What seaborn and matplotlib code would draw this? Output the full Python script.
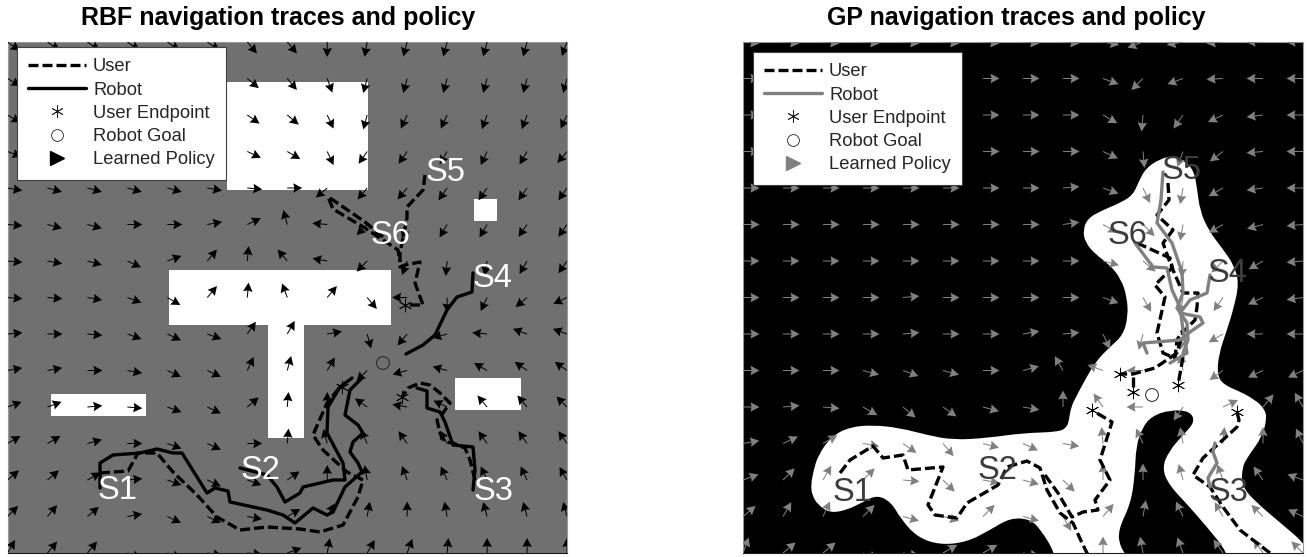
import numpy as np
import matplotlib
matplotlib.use("Agg")
import matplotlib.pyplot as plt
import seaborn as sns
from matplotlib.lines import Line2D
from matplotlib.patches import PathPatch, Rectangle
from matplotlib.path import Path

TITLES = ["RBF navigation traces and policy", "GP navigation traces and policy"]
LEGEND_LABELS = ["User", "Robot", "User Endpoint", "Robot Goal", "Learned Policy"]

# policy direction per grid cell, degrees (15 rows, 15 columns)
RBF_ANGLES = [
 [-35,-35,-35,-35,-35,-35,-50,-50,-90,-100,-105,-105,-105,-105,-110],
 [-30,-30,-30,-30,-30,-30,-40,-50,-70,-105,-105,-105,-105,-105,-105],
 [-30,-30,-30,-30,-30,-30,-35,-40,-65,-105,-115,-115,-110,-110,-115],
 [-20,-20,-20,-20,-20,-20,-25,-30,-65,-125,-125,-120,-115,-120,-130],
 [-10,-15,-15,-15,-15,-10,-5,0,-140,-130,-130,-125,-125,-125,-125],
 [-5,-15,-15,0,0,10,25,105,175,-135,-110,-120,-120,-125,-125],
 [-5,-10,-15,-25,20,50,85,130,170,-135,-110,-95,-100,-120,-125],
 [-5,-5,-10,-20,-30,50,85,110,50,-50,180,-90,-115,-140,-155],
 [5,0,-5,-20,-25,-20,55,60,10,-75,-130,195,175,160,160],
 [10,10,0,-10,-25,-25,65,75,60,-135,195,165,150,145,145],
 [20,20,5,-5,-20,-25,40,85,90,145,170,155,130,130,135],
 [30,30,15,0,-20,-25,0,85,105,115,125,120,125,125,125],
 [40,40,30,5,-20,-25,-20,35,90,100,110,115,115,115,120],
 [45,50,40,10,-25,-25,-10,30,60,80,90,100,105,105,105],
 [60,50,50,-20,-20,-10,-5,20,80,60,70,85,90,90,90],
]
GP_ANGLES = [
 [-5,-5,-5,-5,-5,-5,-5,-5,-5,-10,-160,190,185,180,180],
 [0,0,0,0,0,0,0,0,0,-20,-135,200,183,180,180],
 [0,0,0,0,0,0,0,0,0,-30,-95,-125,205,187,180],
 [0,0,0,0,0,0,0,0,0,-25,-85,-110,-143,185,180],
 [0,0,0,0,0,0,0,0,5,-20,-65,-100,-150,188,180],
 [0,0,0,0,0,0,0,0,8,-30,-45,-100,-150,195,185],
 [0,0,0,0,0,0,0,0,0,-15,-40,-95,-135,210,185],
 [0,0,0,0,5,0,0,0,0,-20,-60,-100,-125,205,188],
 [0,0,0,0,5,0,0,10,5,-65,-105,-100,-150,180,180],
 [0,0,0,-15,-20,-15,0,15,120,160,180,100,-145,205,205],
 [0,5,-5,-30,-40,-35,-15,-10,90,125,180,-125,25,50,120],
 [10,25,30,-10,-35,-50,-15,-25,-10,95,115,100,85,90,115],
 [20,45,60,45,-5,-45,-10,-15,-45,90,90,105,110,125,160],
 [40,60,65,45,-15,-15,45,-15,-60,50,80,115,120,135,155],
 [70,40,40,-20,-10,30,30,-10,-100,90,100,110,125,125,135],
]

RBF_USER = [
 ([100,128,138,157,173,197,217,240,267,300,320,343,358,363,347,323,313,327,340],
  [473,471,453,453,472,495,517,530,527,529,532,525,497,480,472,450,435,403,387]),
 ([475,470,465,453,445,440,437,443,450,440,430,420,408,402],
  [480,460,448,443,442,433,420,413,403,393,385,383,388,397]),
 ([425,423,407,407,400,400,405,420,415,423,407],
  [175,190,207,218,253,267,265,262,283,305,305]),
 ([383,365,333,328,333,365,383,398,400],
  [237,222,200,197,209,228,240,250,262]),
]
RBF_ROBOT = [
 ([100,100,113,140,157,173,182,197,207,215,228,230,267,283,295,313,327,333,345,362,358,350,353,363,358,345,350,362],
  [488,463,455,453,449,453,453,477,493,488,491,502,510,515,523,508,515,512,487,472,463,452,442,433,425,415,390,378]),
 ([240,267,277,285,300,303,333,345,343,327,328,340,352],
  [468,475,487,502,493,487,480,480,463,433,407,387,378]),
 ([473,475,473,453,445,440,427,427,417],
  [490,470,447,445,422,412,408,391,388]),
 ([473,472,457,447,435,423,406],
  [273,292,297,310,335,345,354]),
]
RBF_ENDPOINT_X = [342, 402, 405]
RBF_ENDPOINT_Y = [387, 397, 305]
RBF_GOAL = ([383], [363])

GP_USER = [
 ([840,850,873,883,903,908,943,928,935,957,967,998,1007,1027,1040,1047,1060,1073,1082,1088],
  [473,460,446,458,455,470,467,505,515,518,503,485,467,461,468,490,513,523,543,555]),
 ([1045,1058,1072,1083,1098,1095,1110,1100,1112,1095],
  [475,493,517,512,510,500,480,460,422,412]),
 ([1270,1253,1240,1223,1210,1193,1203,1237,1239,1237],
  [553,540,530,507,487,475,458,427,420,412]),
 ([1168,1169,1157,1173,1163,1168,1172,1155,1165,1157,1163,1175,1177,1183],
  [183,200,215,230,243,257,268,285,297,333,353,358,340,330]),
 ([1137,1170,1173,1183,1198,1197,1195,1183,1177,1155,1133,1120],
  [243,258,270,293,293,307,320,332,353,368,374,374]),
 ([1183,1178], [357,385]),
 ([1133,1133], [377,392]),
]
GP_ROBOT = [
 ([1163,1161,1157,1172,1182,1183,1177,1187,1188,1183],
  [172,200,223,243,272,293,308,323,340,353]),
 ([1135,1153,1167,1172,1180,1183,1187,1170],
  [243,267,268,290,307,330,353,363]),
 ([1210,1207,1190,1180,1200,1203,1190,1180,1143,1147],
  [275,293,300,313,317,323,332,340,343,353]),
 ([1210,1208,1217,1213,1215],
  [487,478,463,452,443]),
]
GP_ENDPOINT_X = [1120,1133,1178,1092,1237]
GP_ENDPOINT_Y = [374,392,385,410,412]
GP_GOAL = ([1152], [395])

RBF_RECTS = [(227,82,368,190),(169,270,391,325),(268,325,304,438),
             (51,394,146,416),(474,199,497,221),(455,378,521,410)]
GP_OUTLINE_X = [811,813,818,832,850,873,900,927,953,987,1023,1059,1067,1069,1071,1077,1085,1096,1111,1123,
 1128,1127,1121,1110,1095,1085,1083,1088,1103,1120,1133,1139,1146,1160,1172,1185,1194,1197,1200,1209,
 1222,1234,1239,1234,1227,1219,1217,1224,1241,1255,1264,1267,1262,1249,1242,1242,1257,1277,1310,1310,
 1228,1228,1207,1186,1169,1162,1169,1183,1195,1190,1170,1152,1142,1136,1135,1131,1118,1120,1130,1130,
 1055,1055,1041,1030,1010,990,967,940,917,901,891,877,863,847,830,818,812]
GP_OUTLINE_Y = [485,473,455,436,427,425,428,435,440,438,433,432,427,420,407,395,380,361,346,335,
 317,297,279,265,254,242,230,218,210,203,195,181,168,159,156,161,171,188,211,231,
 248,265,283,307,330,353,375,385,392,400,408,418,437,455,467,487,503,520,548,570,
 570,553,527,503,485,468,451,435,422,411,410,416,428,447,473,503,530,547,560,570,
 570,553,530,519,518,530,542,545,537,519,502,495,502,510,513,505,495]

RBF_LABELS = [("S1",118,490),("S2",260,470),("S3",493,491),("S4",493,278),("S5",446,172),("S6",390,235)]
GP_LABELS = [("S1",853,492),("S2",997,470),("S3",1228,492),("S4",1228,273),("S5",1182,170),("S6",1127,235)]

W, H = 1307, 557
sns.set_theme(style="white")
plt.rcParams["font.family"] = ["Liberation Sans", "DejaVu Sans"]
fig = plt.figure(figsize=(W / 100, H / 100), dpi=100, facecolor="white")


def make_axes(x0, x1, y0, y1, bg):
    ax = fig.add_axes([x0 / W, 1 - y1 / H, (x1 - x0) / W, (y1 - y0) / H])
    ax.set_xlim(x0, x1)
    ax.set_ylim(y1, y0)
    ax.set_facecolor(bg)
    ax.set_xticks([]); ax.set_yticks([])
    for side, sp in ax.spines.items():
        sp.set_linewidth(0.8)
        sp.set_color("#202020" if side == "bottom" else "#9a9a9a")
    return ax


def quiver(ax, x0, x1, y0, y1, angles, color, length):
    a = np.radians(np.array(angles, float))
    X, Y = np.meshgrid(np.linspace(x0, x1, 15), np.linspace(y0, y1, 15))
    ax.quiver(X, Y, length * np.cos(a), length * np.sin(a), angles="uv", scale_units="xy",
              scale=1, pivot="tail", units="dots", width=1.0, headwidth=9.5, headlength=9,
              headaxislength=8, minlength=0, color=color, zorder=3)


def traces(ax, series, color, style, lw):
    for xs, ys in series:
        sns.lineplot(x=xs, y=ys, sort=False, estimator=None, ax=ax, color=color,
                     linewidth=lw, linestyle=style, zorder=4, legend=False)


def markers(ax, ex, ey, goal):
    sns.scatterplot(x=ex, y=ey, ax=ax, marker=(6, 2, 0), s=85, color="black", linewidth=0.6,
                    zorder=5, legend=False)
    sns.scatterplot(x=goal[0], y=goal[1], ax=ax, marker="o", s=85, facecolor="none",
                    edgecolor="#202020", linewidth=0.7, zorder=5, legend=False)


def labels(ax, items, color):
    for t, x, y in items:
        ax.text(x, y, t, color=color, fontsize=23.5, ha="center", va="center", zorder=6)


def legend(ax, x, y, robot_color, policy_color):
    hs = [Line2D([], [], color="black", lw=2.4, ls=(0, (3.0, 1.2))),
          Line2D([], [], color=robot_color, lw=2.4),
          Line2D([], [], color="#222222", ls="", marker=(6, 2, 0), ms=9, mew=0.6),
          Line2D([], [], color="#222222", ls="", marker="o", mfc="none", ms=8.5, mew=0.6),
          Line2D([], [], color=policy_color, ls="", marker=">", ms=9.5)]
    leg = ax.legend(hs, LEGEND_LABELS, loc="upper left", bbox_to_anchor=(x, y),
                    bbox_transform=ax.transData, fontsize=13.2, frameon=True, fancybox=False,
                    framealpha=1, facecolor="white", edgecolor="#404040", borderpad=0.62,
                    labelspacing=0.34, handlelength=3.15, handletextpad=0.38, borderaxespad=0)
    leg.get_frame().set_linewidth(0.8)
    leg.set_zorder(10)


# left panel
axL = make_axes(7.5, 567, 42, 553, "#707070")
for a, b, c, d in RBF_RECTS:
    axL.add_patch(Rectangle((a, b), c - a, d - b, fc="white", ec="none", zorder=1))
quiver(axL, 7.5, 567, 42, 553, RBF_ANGLES, "black", 15)
traces(axL, RBF_USER, "black", (0, (3.0, 1.2)), 2.4)
traces(axL, RBF_ROBOT, "black", "-", 2.4)
markers(axL, RBF_ENDPOINT_X, RBF_ENDPOINT_Y, RBF_GOAL)
labels(axL, RBF_LABELS, "white")
legend(axL, 17, 47, "black", "black")
axL.set_xlim(7.5, 567); axL.set_ylim(553, 42)

# right panel
axR = make_axes(743, 1303, 42, 553, "black")
pts = np.column_stack([GP_OUTLINE_X, GP_OUTLINE_Y]).astype(float)
mids = (pts + np.roll(pts, -1, axis=0)) / 2
verts, codes = [mids[-1]], [Path.MOVETO]
for p, m in zip(pts, mids):
    verts += [p, m]
    codes += [Path.CURVE3, Path.CURVE3]
axR.add_patch(PathPatch(Path(verts, codes), fc="white", ec="none", zorder=1))
quiver(axR, 743, 1303, 42, 553, GP_ANGLES, "#808080", 16.5)
traces(axR, GP_USER, "black", (0, (3.0, 1.2)), 2.4)
traces(axR, GP_ROBOT, "#808080", "-", 2.4)
markers(axR, GP_ENDPOINT_X, GP_ENDPOINT_Y, GP_GOAL)
labels(axR, GP_LABELS, "#3c3c3c")
legend(axR, 753, 52, "#808080", "#808080")
axR.set_xlim(743, 1303); axR.set_ylim(553, 42)

fig.text(278 / W, 1 - 18 / H, TITLES[0], ha="center", va="center", fontsize=18, fontweight="bold", color="black")
fig.text(1016.5 / W, 1 - 18 / H, TITLES[1], ha="center", va="center", fontsize=18, fontweight="bold", color="black")

fig.savefig("out.png", dpi=100)
